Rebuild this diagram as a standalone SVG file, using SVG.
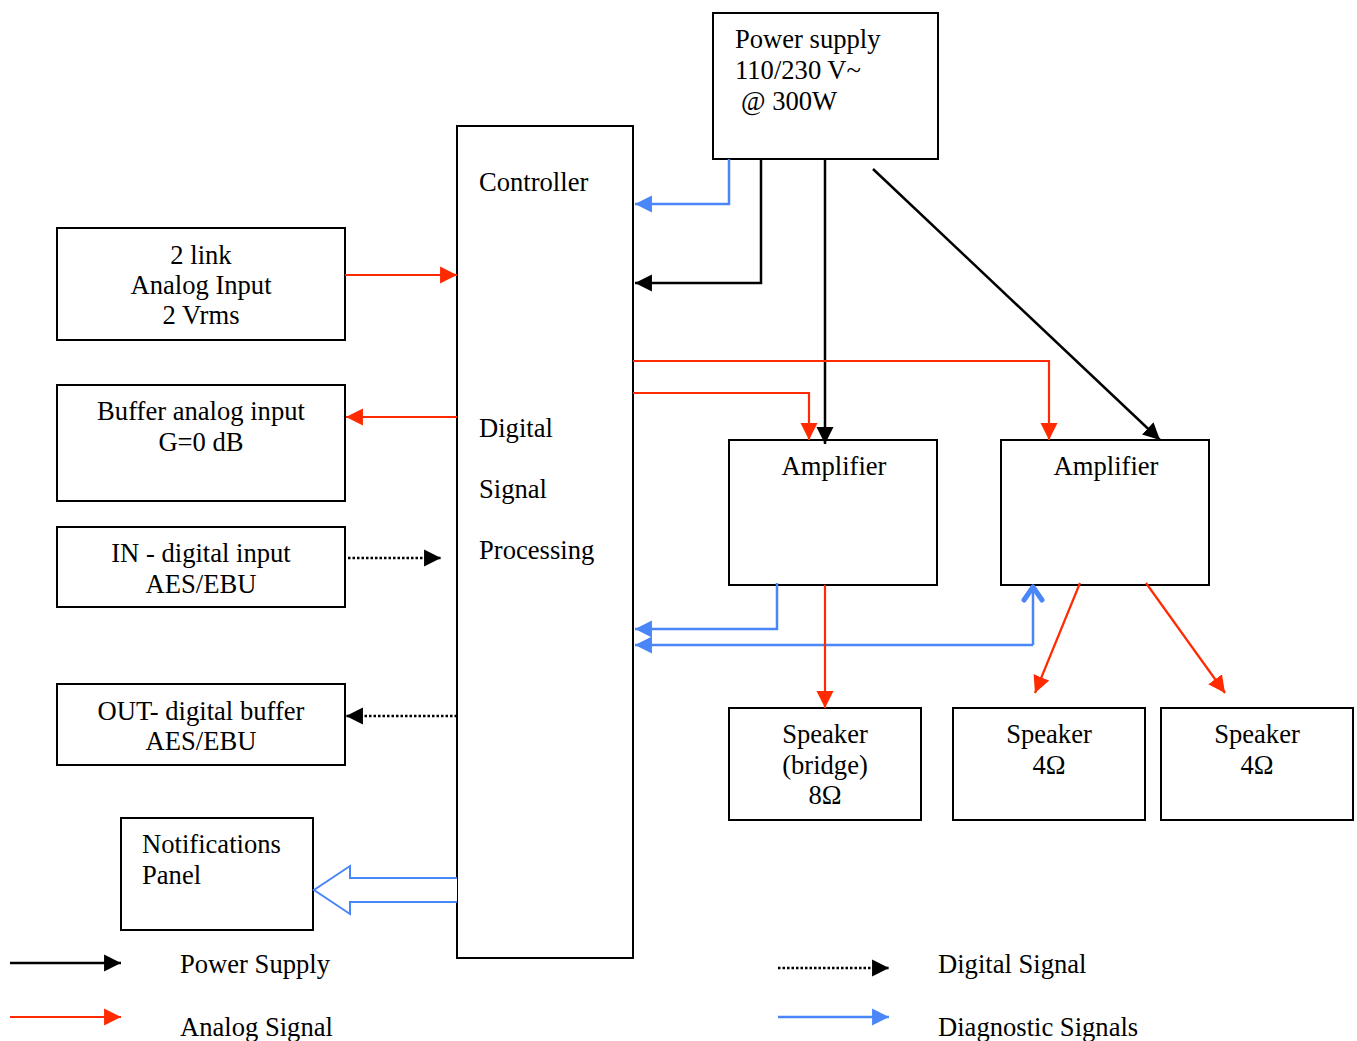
<svg xmlns="http://www.w3.org/2000/svg" width="1357" height="1041" viewBox="0 0 1357 1041">
<style>
.box{fill:#fff;stroke:#000;stroke-width:2}
text{font-family:"Liberation Serif","Times New Roman",serif;font-size:26.6px;fill:#000}
.c{text-anchor:middle}
.k{stroke:#000;stroke-width:2.5;fill:none}
.r{stroke:#ff2a00;stroke-width:2.2;fill:none}
.b{stroke:#4a86f7;stroke-width:2.5;fill:none}
.d{stroke:#000;stroke-width:2.5;fill:none;stroke-dasharray:2.5 2}
</style>
<defs>
<marker id="ak" markerUnits="userSpaceOnUse" markerWidth="18" markerHeight="18" refX="16" refY="8" orient="auto" viewBox="0 0 17 16"><path d="M0,0 L16,8 L0,16 z" fill="#000"/></marker>
<marker id="ar" markerUnits="userSpaceOnUse" markerWidth="18" markerHeight="18" refX="16" refY="8" orient="auto" viewBox="0 0 17 16"><path d="M0,0 L16,8 L0,16 z" fill="#ff2a00"/></marker>
<marker id="ab" markerUnits="userSpaceOnUse" markerWidth="18" markerHeight="18" refX="16" refY="8" orient="auto" viewBox="0 0 17 16"><path d="M0,0 L16,8 L0,16 z" fill="#4a86f7"/></marker>
<marker id="av" markerUnits="userSpaceOnUse" markerWidth="26" markerHeight="26" refX="21" refY="13" orient="auto" viewBox="0 0 26 26"><path d="M8,4 L21,13 L8,22" fill="none" stroke="#4a86f7" stroke-width="5" stroke-linecap="round" stroke-linejoin="round"/></marker>
</defs>

<g id="power-supply"><rect class="box" x="713" y="13" width="225" height="146"/>
<text x="735" y="48">Power supply</text><text x="735" y="79">110/230 V~</text><text x="741" y="110">@ 300W</text></g>

<g id="dsp"><rect class="box" x="457" y="126" width="176" height="832"/>
<text x="479" y="191">Controller</text><text x="479" y="437">Digital</text><text x="479" y="498">Signal</text><text x="479" y="559">Processing</text></g>

<g id="analog-input"><rect class="box" x="57" y="228" width="288" height="112"/>
<text class="c" x="201" y="264">2 link</text><text class="c" x="201" y="294">Analog Input</text><text class="c" x="201" y="324">2 Vrms</text></g>

<g id="buffer-analog"><rect class="box" x="57" y="385" width="288" height="116"/>
<text class="c" x="201" y="420">Buffer analog input</text><text class="c" x="201" y="451">G=0 dB</text></g>

<g id="digital-in"><rect class="box" x="57" y="527" width="288" height="80"/>
<text class="c" x="201" y="562">IN - digital input</text><text class="c" x="201" y="593">AES/EBU</text></g>

<g id="digital-out"><rect class="box" x="57" y="684" width="288" height="81"/>
<text class="c" x="201" y="720">OUT- digital buffer</text><text class="c" x="201" y="750">AES/EBU</text></g>

<g id="notifications"><rect class="box" x="121" y="818" width="192" height="112"/>
<text x="142" y="853">Notifications</text><text x="142" y="884">Panel</text></g>

<g id="amp1"><rect class="box" x="729" y="440" width="208" height="145"/>
<text class="c" x="834" y="475">Amplifier</text></g>

<g id="amp2"><rect class="box" x="1001" y="440" width="208" height="145"/>
<text class="c" x="1106" y="475">Amplifier</text></g>

<g id="speaker-bridge"><rect class="box" x="729" y="708" width="192" height="112"/>
<text class="c" x="825" y="743">Speaker</text><text class="c" x="825" y="774">(bridge)</text><text class="c" x="825" y="804">8Ω</text></g>

<g id="speaker-a"><rect class="box" x="953" y="708" width="192" height="112"/>
<text class="c" x="1049" y="743">Speaker</text><text class="c" x="1049" y="774">4Ω</text></g>

<g id="speaker-b"><rect class="box" x="1161" y="708" width="192" height="112"/>
<text class="c" x="1257" y="743">Speaker</text><text class="c" x="1257" y="774">4Ω</text></g>

<g id="connectors">
<polyline class="b" points="729,159 729,204 635,204" marker-end="url(#ab)"/>
<polyline class="k" points="761,159 761,283 635,283" marker-end="url(#ak)"/>
<line class="k" x1="825" y1="159" x2="825" y2="444" marker-end="url(#ak)"/>
<line class="k" x1="873" y1="169" x2="1160" y2="440" marker-end="url(#ak)"/>
<polyline class="r" points="633,361 1049,361 1049,440" marker-end="url(#ar)"/>
<polyline class="r" points="633,393 809,393 809,440" marker-end="url(#ar)"/>
<line class="r" x1="345" y1="275" x2="457" y2="275" marker-end="url(#ar)"/>
<line class="r" x1="457" y1="417" x2="346" y2="417" marker-end="url(#ar)"/>
<line class="d" x1="348" y1="558" x2="441" y2="558" marker-end="url(#ak)"/>
<line class="d" x1="457" y1="716" x2="346" y2="716" marker-end="url(#ak)"/>
<polyline class="b" points="777,583 777,629 635,629" marker-end="url(#ab)"/>
<polyline class="b" points="1033,645 635,645" marker-end="url(#ab)"/>
<polyline class="b" points="1033,645 1033,587" marker-end="url(#av)"/>
<line class="r" x1="825" y1="585" x2="825" y2="708" marker-end="url(#ar)"/>
<line class="r" x1="1080" y1="583" x2="1035" y2="693" marker-end="url(#ar)"/>
<line class="r" x1="1146" y1="583" x2="1225" y2="693" marker-end="url(#ar)"/>
<path d="M457,878 L350,878 L350,866 L314,890 L350,914 L350,902 L457,902" fill="#fff" stroke="#4a86f7" stroke-width="2"/>
</g>

<g id="legend">
<line class="k" x1="10" y1="963" x2="121" y2="963" marker-end="url(#ak)"/>
<text x="180" y="973">Power Supply</text>
<line class="r" x1="10" y1="1017" x2="121" y2="1017" marker-end="url(#ar)"/>
<text x="180" y="1036">Analog Signal</text>
<line class="d" x1="778" y1="968" x2="889" y2="968" marker-end="url(#ak)"/>
<text x="938" y="973">Digital Signal</text>
<line class="b" x1="778" y1="1017" x2="889" y2="1017" marker-end="url(#ab)"/>
<text x="938" y="1036">Diagnostic Signals</text>
</g>
</svg>
